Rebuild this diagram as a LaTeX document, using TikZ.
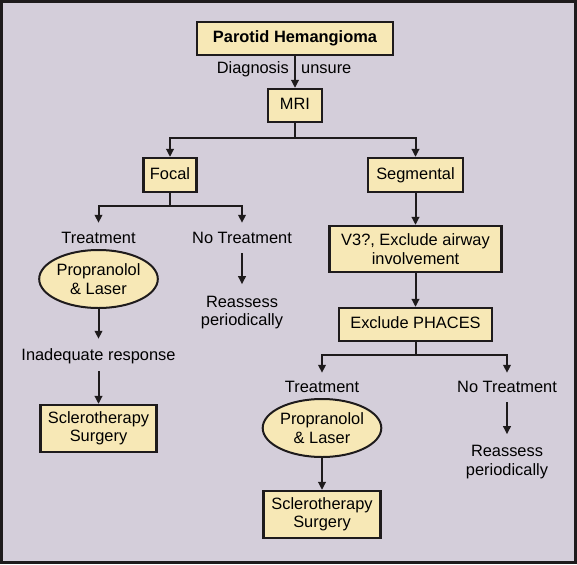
\documentclass[tikz,border=0pt]{standalone}
\usepackage{fontspec}
\setmainfont{Liberation Sans}
\usetikzlibrary{shapes.geometric,arrows.meta}

\definecolor{latar}{RGB}{212,206,218}
\definecolor{kuning}{RGB}{247,232,182}
\definecolor{garis}{RGB}{30,27,28}

\begin{document}
\begin{tikzpicture}[x=1pt,y=-1pt,
    font=\fontsize{16.4}{18.5}\selectfont,
    kotak/.style={draw=garis,line width=2.2pt,fill=kuning,inner sep=0pt,text height=12pt,text depth=3.5pt},
    kotakdua/.style={draw=garis,line width=2.2pt,fill=kuning,inner sep=0pt,align=center},
    elips/.style={ellipse,draw=garis,line width=2pt,fill=kuning,inner sep=0pt,
      minimum width=116pt,minimum height=58pt,align=center},
    teks/.style={inner sep=0pt,text height=12pt,text depth=3.5pt},
    teksdua/.style={inner sep=0pt,align=center},
    panah/.style={draw=garis,line width=2pt,-{Triangle[length=8pt,width=7.5pt]}}]

      \useasboundingbox (0,0) rectangle (577,564);

      % Bingkai dan latar
      \draw[line width=3pt,draw=garis,fill=latar] (1.5,1.5) rectangle (575.5,562.5);

      % Bagian atas
      \node[kotak,minimum width=196pt,minimum height=33pt,
        font=\fontsize{16.4}{18.5}\selectfont\bfseries] (parotid) at (295,38.5) {Parotid Hemangioma};
      \node[kotak,minimum width=54pt,minimum height=33pt] (mri) at (295,105.5) {MRI};
      \node[teks,anchor=base east] (diagnosis) at (289,74) {Diagnosis};
      \node[teks,anchor=base west] (unsure) at (301,74) {unsure};
      \node[kotak,minimum width=53pt,minimum height=34pt] (focal) at (170,175) {Focal};
      \node[kotak,minimum width=95pt,minimum height=34pt] (segmental) at (415.5,175) {Segmental};

      % Cabang kiri (focal)
      \node[teks,anchor=base] (treat1) at (98.5,243.5) {Treatment};
      \node[teks,anchor=base] (notreat1) at (242,243.5) {No Treatment};
      \node[elips] (obat1) at (98.5,279) {Propranolol\\\& Laser};
      \node[teks,anchor=base] (respon) at (98.5,360) {Inadequate response};
      \node[kotakdua,minimum width=116pt,minimum height=47pt] (skl1) at (98.5,428.5) {Sclerotherapy\\Surgery};
      \node[teksdua] (nilai1) at (242,312.7) {Reassess\\periodically};

      % Cabang kanan (segmental)
      \node[kotakdua,minimum width=172pt,minimum height=46pt] (v3) at (415.5,249) {V3?, Exclude airway\\involvement};
      \node[kotak,minimum width=153pt,minimum height=33pt] (phaces) at (415.5,324.5) {Exclude PHACES};
      \node[teks,anchor=base] (treat2) at (322,392.7) {Treatment};
      \node[teks,anchor=base] (notreat2) at (507,392.7) {No Treatment};
      \node[elips] (obat2) at (322,428) {Propranolol\\\& Laser};
      \node[kotakdua,minimum width=117pt,minimum height=47pt] (skl2) at (322,514.5) {Sclerotherapy\\Surgery};
      \node[teksdua] (nilai2) at (507,462) {Reassess\\periodically};

      % Panah
      \draw[panah] (parotid) -- (mri);
      \draw[panah] (mri.south) -- ++(0,15) -| (focal);
      \draw[panah] (mri.south) -- ++(0,15) -| (segmental);

      \draw[panah,shorten >=8.5pt] (focal.south) -- ++(0,13) -| (treat1);
      \draw[panah,shorten >=8.5pt] (focal.south) -- ++(0,13) -| (notreat1);
      \draw[panah,shorten >=9pt] (obat1) -- (respon);
      \draw[panah,shorten <=7.5pt] (respon) -- (skl1);
      \draw[panah,shorten <=6pt,shorten >=11.7pt] (notreat1) -- (nilai1);

      \draw[panah] (segmental) -- (v3);
      \draw[panah] (v3) -- (phaces);
      \draw[panah,shorten >=7.7pt] (phaces.south) -- ++(0,13) -| (treat2);
      \draw[panah,shorten >=7.7pt] (phaces.south) -- ++(0,13) -| (notreat2);
      \draw[panah] (obat2) -- (skl2);
      \draw[panah,shorten <=6pt,shorten >=11pt] (notreat2) -- (nilai2);
    \end{tikzpicture}
\end{document}
